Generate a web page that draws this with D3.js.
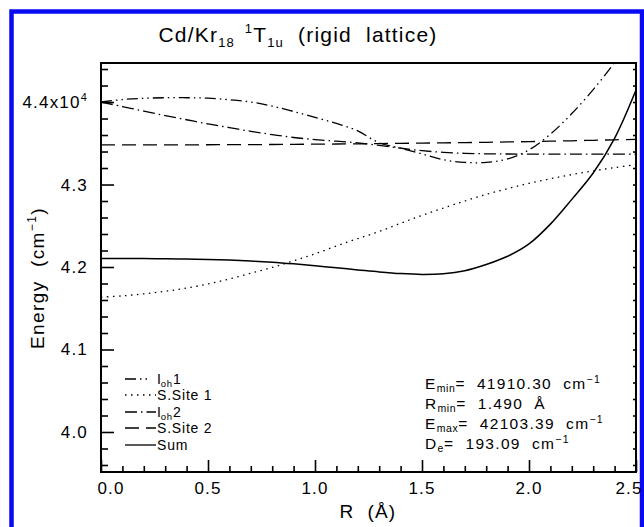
<!DOCTYPE html>
<html>
<head>
<meta charset="utf-8">
<script src="https://cdn.jsdelivr.net/npm/d3@7"></script>
<style>
  body { margin: 0; background: #fff; }
  svg text { font-family: "Liberation Sans", Arial, sans-serif; fill: #000; white-space: pre; }
</style>
</head>
<body>
<svg id="chart" width="644" height="527"></svg>
<script>
// Cd/Kr18 1T1u potential curves, rigid lattice (energies in cm^-1 vs displacement R in Å)
const radius   = [0.0, 0.1, 0.2, 0.3, 0.4, 0.5, 0.6, 0.7, 0.8, 0.9, 1.0, 1.1, 1.2,
                  1.3, 1.4, 1.5, 1.6, 1.7, 1.8, 1.9, 2.0, 2.1, 2.2, 2.3, 2.4, 2.5];
const iOh1     = [44000, 44030, 44045, 44052, 44052, 44046, 44028, 44000, 43950, 43885, 43815, 43740, 43650,
                  43505, 43440, 43370, 43300, 43268, 43268, 43310, 43420, 43610, 43860, 44150, 44480, 44850];
const sSite1   = [41635, 41650, 41675, 41705, 41745, 41795, 41855, 41925, 41995, 42075, 42160, 42255, 42345,
                  42430, 42530, 42625, 42715, 42800, 42880, 42950, 43015, 43070, 43120, 43165, 43205, 43240];
const iOh2     = [44000, 43945, 43890, 43835, 43785, 43735, 43690, 43645, 43605, 43570, 43545, 43525, 43505,
                  43475, 43440, 43410, 43390, 43378, 43372, 43370, 43368, 43368, 43368, 43368, 43368, 43368];
const sSite2   = [43480, 43480, 43480, 43481, 43481, 43482, 43483, 43484, 43485, 43487, 43489, 43491, 43493,
                  43496, 43499, 43502, 43505, 43508, 43512, 43516, 43520, 43525, 43530, 43536, 43542, 43548];
const sumCurve = [42103, 42103, 42102, 42100, 42097, 42092, 42084, 42073, 42058, 42038, 42015, 41990, 41965,
                  41940, 41920, 41910, 41918, 41955, 42030, 42130, 42280, 42520, 42820, 43140, 43560, 44145];

const xMajorTicks = [0.0, 0.5, 1.0, 1.5, 2.0, 2.5];
const xTickLabels = ["0.0", "0.5", "1.0", "1.5", "2.0", "2.5"];
const yMajorTicks = [40000, 41000, 42000, 43000, 44000];
const yTickLabels = ["4.0", "4.1", "4.2", "4.3", "4.4x10"];

const seriesNames = ["Ioh1", "S.Site 1", "Ioh2", "S.Site 2", "Sum"];
const seriesDash  = ["11,4,1.5,4,1.5,4", "1.5,4.5", "12,4,1.5,4", "14,7", null];

const stats = [
  { main: "E", sub: "min", rest: "=  41910.30  cm", sup: "\u22121" },
  { main: "R", sub: "min", rest: "=  1.490  Å", sup: "" },
  { main: "E", sub: "max", rest: "=  42103.39  cm", sup: "\u22121" },
  { main: "D", sub: "e",   rest: "=  193.09  cm", sup: "\u22121" }
];

const svg = d3.select("#chart");
const plot = { left: 101, right: 636, top: 63, bottom: 472 };

const x = d3.scaleLinear().domain([0, 2.5]).range([plot.left, plot.right]);
const y = d3.scaleLinear().domain([39515, 44473]).range([plot.bottom, plot.top]);

// outer blue frame
svg.append("rect")
  .attr("x", 11.5).attr("y", 11.5).attr("width", 630.5).attr("height", 600)
  .attr("fill", "none").attr("stroke", "#0a0af2").attr("stroke-width", 4.5);

svg.append("defs").append("clipPath").attr("id", "plotClip")
  .append("rect")
  .attr("x", plot.left).attr("y", plot.top)
  .attr("width", plot.right - plot.left).attr("height", plot.bottom - plot.top);

// curves
const allSeries = [iOh1, sSite1, iOh2, sSite2, sumCurve];
const line = d3.line()
  .x(d => x(d[0])).y(d => y(d[1]))
  .curve(d3.curveCatmullRom.alpha(0.5));

const curves = svg.append("g").attr("clip-path", "url(#plotClip)");
allSeries.forEach((vals, i) => {
  curves.append("path")
    .datum(radius.map((r, k) => [r, vals[k]]))
    .attr("d", line)
    .attr("fill", "none")
    .attr("stroke", "#000")
    .attr("stroke-width", i === 4 ? 1.5 : 1.3)
    .attr("stroke-dasharray", seriesDash[i]);
});

// axes: major and minor ticks
const yMinor = d3.range(39600, 44473, 200).filter(v => !yMajorTicks.includes(v));
const xMinor = d3.range(1, 25).map(k => k / 10).filter(v => Math.round(v * 10) % 5 !== 0);

const yAxis = svg.append("g").attr("transform", `translate(${plot.left},0)`);
yAxis.call(d3.axisLeft(y).tickValues(yMajorTicks).tickSize(-13).tickFormat(""));
const yAxisMinor = svg.append("g").attr("transform", `translate(${plot.left},0)`);
yAxisMinor.call(d3.axisLeft(y).tickValues(yMinor).tickSize(-7).tickFormat(""));

const xAxis = svg.append("g").attr("transform", `translate(0,${plot.bottom})`);
xAxis.call(d3.axisBottom(x).tickValues(xMajorTicks).tickSize(-12).tickFormat(""));
const xAxisMinor = svg.append("g").attr("transform", `translate(0,${plot.bottom})`);
xAxisMinor.call(d3.axisBottom(x).tickValues(xMinor).tickSize(-6).tickFormat(""));

const rAxis = svg.append("g").attr("transform", `translate(${plot.right},0)`);
rAxis.call(d3.axisRight(y).tickValues(yMinor.concat(yMajorTicks)).tickSize(-3).tickFormat(""));

svg.selectAll(".domain").remove();
svg.selectAll(".tick line").attr("stroke", "#000").attr("stroke-width", 1.6);

// plot frame
svg.append("rect")
  .attr("x", plot.left).attr("y", plot.top)
  .attr("width", plot.right - plot.left).attr("height", plot.bottom - plot.top)
  .attr("fill", "none").attr("stroke", "#000").attr("stroke-width", 2);

// tick labels
const tickFont = 17;
xMajorTicks.forEach((v, i) => {
  let cx = x(v);
  if (i === 0) cx += 10;
  if (i === xMajorTicks.length - 1) cx -= 7;
  svg.append("text")
    .attr("x", cx).attr("y", 494)
    .attr("text-anchor", "middle")
    .attr("font-size", tickFont).attr("letter-spacing", 1.2)
    .text(xTickLabels[i]);
});
yMajorTicks.forEach((v, i) => {
  const t = svg.append("text")
    .attr("x", 88).attr("y", y(v) + 6)
    .attr("text-anchor", "end")
    .attr("font-size", tickFont).attr("letter-spacing", 1.2);
  t.append("tspan").text(yTickLabels[i]);
  if (v === 44000) {
    t.append("tspan").attr("font-size", 11).attr("dy", -7).text("4");
  }
});

// axis titles
svg.append("text")
  .attr("x", 368).attr("y", 518).attr("text-anchor", "middle")
  .attr("font-size", 19).attr("letter-spacing", 1.2)
  .text("R  (Å)");

const yTitle = svg.append("text")
  .attr("transform", "translate(44,278) rotate(-90)")
  .attr("text-anchor", "middle")
  .attr("font-size", 19).attr("letter-spacing", 1.4);
yTitle.append("tspan").text("Energy  (cm");
yTitle.append("tspan").attr("font-size", 12).attr("dy", -8).text("\u22121");
yTitle.append("tspan").attr("dy", 8).text(")");

// chart title
const title = svg.append("text")
  .attr("x", 298).attr("y", 42).attr("text-anchor", "middle")
  .attr("font-size", 21).attr("letter-spacing", 1.2);
title.append("tspan").text("Cd/Kr");
title.append("tspan").attr("font-size", 13).attr("dy", 5).text("18");
title.append("tspan").attr("font-size", 13).attr("dy", -14).text("  1");
title.append("tspan").attr("dy", 9).text("T");
title.append("tspan").attr("font-size", 13).attr("dy", 5).text("1u");
title.append("tspan").attr("dy", -5).text("  (rigid  lattice)");

// legend
const legendBase = [384, 400, 417, 433, 450];
seriesNames.forEach((name, i) => {
  const cy = legendBase[i] - 5;
  svg.append("line")
    .attr("x1", 125).attr("x2", i === 0 ? 151 : 156).attr("y1", cy).attr("y2", cy)
    .attr("stroke", "#000").attr("stroke-width", i === 4 ? 1.3 : 1.4)
    .attr("stroke-dasharray", seriesDash[i]);
  const t = svg.append("text")
    .attr("x", 157).attr("y", legendBase[i])
    .attr("font-size", 14).attr("letter-spacing", 0.8);
  if (name.startsWith("Ioh")) {
    t.append("tspan").text("I");
    t.append("tspan").attr("font-size", 9.5).attr("dy", 2.5).attr("dx", -1).text("oh");
    t.append("tspan").attr("dy", -2.5).text(name.slice(3));
  } else {
    t.text(name);
  }
});

// minimum / maximum summary
const statBase = [389, 409, 429, 449];
stats.forEach((s, i) => {
  const t = svg.append("text")
    .attr("x", 425).attr("y", statBase[i])
    .attr("font-size", 15.5).attr("letter-spacing", 1.3);
  t.append("tspan").text(s.main);
  t.append("tspan").attr("font-size", 10.5).attr("dy", 3).attr("letter-spacing", 0.6).text(s.sub);
  t.append("tspan").attr("dy", -3).text(s.rest);
  if (s.sup) t.append("tspan").attr("font-size", 10.5).attr("dy", -6).text(s.sup);
});
</script>
</body>
</html>
